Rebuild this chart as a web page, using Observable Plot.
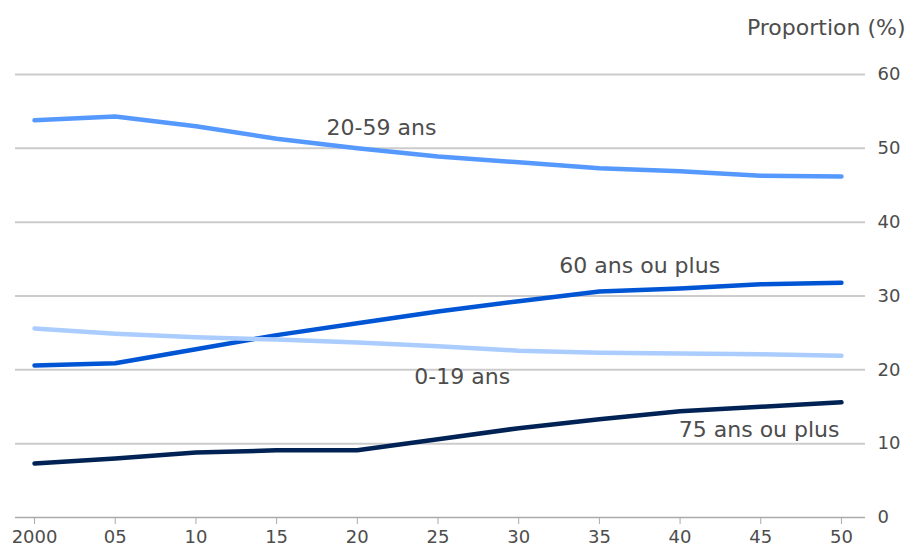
<!DOCTYPE html>
<html>
<head>
<meta charset="utf-8">
<script src="https://cdn.jsdelivr.net/npm/d3@7"></script>
<script src="https://cdn.jsdelivr.net/npm/@observablehq/plot@0.6"></script>
<style>
  html, body { margin: 0; padding: 0; background: #fff; }
  #chart svg { display: block; font-family: "DejaVu Sans", sans-serif; }
</style>
</head>
<body>
<div id="chart"></div>
<script>
const years = [2000, 2005, 2010, 2015, 2020, 2025, 2030, 2035, 2040, 2045, 2050];
const yearLabels = ["2000", "05", "10", "15", "20", "25", "30", "35", "40", "45", "50"];
const age20_59 = [53.8, 54.3, 53.0, 51.3, 50.0, 48.9, 48.1, 47.3, 46.9, 46.3, 46.2];
const age60plus = [20.6, 20.9, 22.8, 24.7, 26.3, 27.9, 29.3, 30.6, 31.0, 31.6, 31.8];
const age0_19 = [25.6, 24.9, 24.4, 24.1, 23.7, 23.2, 22.6, 22.3, 22.2, 22.1, 21.9];
const age75plus = [7.3, 8.0, 8.8, 9.1, 9.1, 10.6, 12.1, 13.3, 14.4, 15.0, 15.6];
const seriesNames = ["20-59 ans", "60 ans ou plus", "0-19 ans", "75 ans ou plus"];
const seriesColors = ["#5599ff", "#0055d4", "#aaccff", "#002255"];
const yTicks = [0, 10, 20, 30, 40, 50, 60];
const title = "Proportion (%)";
// label anchor points (year, value) for direct labels
const labelYears = [2021.5, 2037.5, 2026.5, 2044.9];
const labelValues = [52.8, 34.1, 19.1, 11.8];

const seriesValues = [age20_59, age60plus, age0_19, age75plus];
const rows = [];
seriesNames.forEach((name, i) => {
  years.forEach((yr, j) => rows.push({series: name, year: yr, value: seriesValues[i][j]}));
});
const labels = seriesNames.map((name, i) => ({series: name, year: labelYears[i], value: labelValues[i]}));

const textColor = "#4d4d4d";

const chart = Plot.plot({
  width: 906,
  height: 550,
  marginLeft: 15,
  marginRight: 41,
  marginTop: 74,
  marginBottom: 33,
  style: {fontFamily: "DejaVu Sans, sans-serif", background: "#fff"},
  x: {domain: [1998.82, 2051.49]},
  y: {domain: [0, 60]},
  color: {domain: seriesNames, range: seriesColors},
  marks: [
    Plot.ruleY(yTicks.filter(d => d > 0), {stroke: "#cccccc", strokeWidth: 2}),
    Plot.ruleY([0], {stroke: "#aaaaaa", strokeWidth: 1.5}),
    Plot.axisY({
      anchor: "right", ticks: yTicks, tickSize: 0, tickPadding: 12,
      fontSize: 18, color: textColor, label: null
    }),
    Plot.axisX({
      ticks: years, tickFormat: (d) => yearLabels[years.indexOf(d)],
      tickSize: 7, tickPadding: 6, stroke: "#aaaaaa", fontSize: 18, color: textColor,
      label: null
    }),
    Plot.line(rows, {x: "year", y: "value", z: "series", stroke: "series", strokeWidth: 4.5, strokeLinejoin: "round"}),
    Plot.text(labels, {
      x: "year", y: "value", text: "series", fontSize: 22, fill: textColor,
      textAnchor: "middle", lineAnchor: "middle"
    }),
    Plot.text([title], {
      frameAnchor: "top-right", dx: 40, dy: -47, text: d => d,
      fontSize: 22, fill: textColor, textAnchor: "end", lineAnchor: "middle"
    })
  ]
});
document.getElementById("chart").appendChild(chart);
</script>
</body>
</html>
